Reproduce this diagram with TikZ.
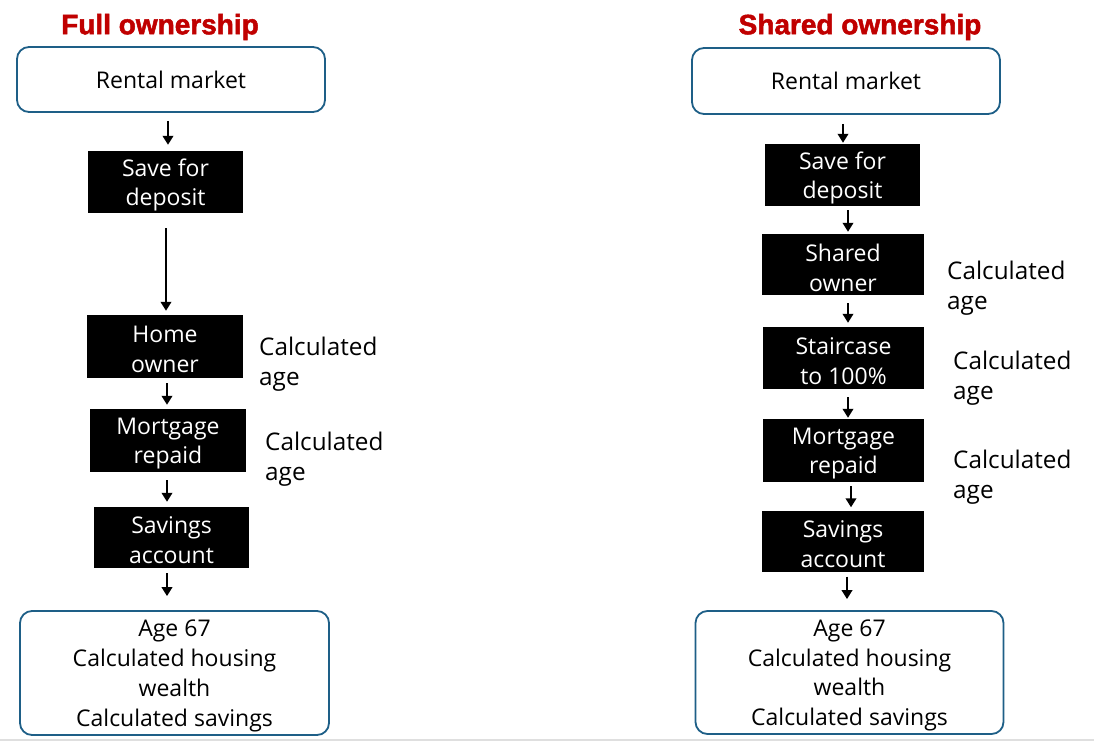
\documentclass[tikz,border=0pt]{standalone}
\usepackage{fontspec}
\setmainfont{Open Sans}
\newfontfamily\titlefont{Liberation Sans}[BoldFeatures={FakeBold=1.8}]
\usetikzlibrary{arrows.meta}
\definecolor{frame}{RGB}{30,95,135}
\definecolor{titlered}{RGB}{192,0,0}
\tikzset{
  body/.style={font=\fontsize{23}{29.8}\selectfont, align=center, inner sep=0pt},
  boxtext/.style={body, yshift=-3pt},
  roundbox/.style={inner sep=0pt, draw=frame, line width=1.8pt, rounded corners=12pt, fill=white,
    label={[boxtext]center:{#1}}},
  singlebox/.style={inner sep=0pt, draw=frame, line width=1.8pt, rounded corners=12pt, fill=white,
    label={[body]center:{#1}}},
  blackbox/.style={inner sep=0pt, fill=black,
    label={[boxtext, text=white]center:{#1}}},
  sidelabel/.style={body, font=\fontsize{24.3}{30}\selectfont, anchor=west, align=left},
  titletext/.style={font=\titlefont\bfseries\fontsize{28}{32}\selectfont, text=titlered, inner sep=0pt},
  flow/.style={line width=2.2pt, -{Triangle[length=9pt,width=10.5pt]}}
}
\begin{document}
\begin{tikzpicture}[x=1pt,y=-1pt]
\useasboundingbox (0,0) rectangle (1094,741);
\fill[white] (0,0) rectangle (1094,741);
\draw[gray!25, line width=1.5pt] (0,740) -- (1094,740);

% ---------- Left: Full ownership ----------
\node[titletext] (tL) at (160,27) {Full ownership};
\node[singlebox={Rental market}, minimum width=308pt, minimum height=65pt] (rentL) at (171,79.5) {};
\node[blackbox={Save for\\deposit}, minimum width=155pt, minimum height=62pt] (saveL) at (165.5,182) {};
\node[blackbox={Home\\owner}, minimum width=156pt, minimum height=63pt] (homeL) at (165,346.5) {};
\node[blackbox={Mortgage\\repaid}, minimum width=156pt, minimum height=63pt] (mortL) at (168,440.5) {};
\node[blackbox={Savings\\account}, minimum width=155pt, minimum height=61pt] (savL) at (171.5,537.5) {};
\node[roundbox={Age 67\\Calculated housing\\wealth\\Calculated savings}, minimum width=309pt, minimum height=124pt] (finL) at (174.5,673) {};
\node[sidelabel] (cL1) at (259,364) {Calculated\\age};
\node[sidelabel] (cL2) at (265,459.5) {Calculated\\age};

\draw[flow] ([xshift=-3pt,yshift=-8pt]rentL.south) -- ([xshift=2.5pt,yshift=6pt]saveL.north);
\draw[flow] ([xshift=0.5pt,yshift=-15pt]saveL.south) -- ([xshift=1pt,yshift=4pt]homeL.north);
\draw[flow] ([xshift=2pt,yshift=-5pt]homeL.south) -- ([xshift=-1pt,yshift=4pt]mortL.north);
\draw[flow] ([xshift=-1pt,yshift=-8pt]mortL.south) -- ([xshift=-4.5pt,yshift=5pt]savL.north);
\draw[flow] ([xshift=-4.5pt,yshift=-5pt]savL.south) -- ([xshift=-7.5pt,yshift=14pt]finL.north);

% ---------- Right: Shared ownership ----------
\node[titletext] (tR) at (860,27) {Shared ownership};
\node[singlebox={Rental market}, minimum width=308pt, minimum height=66pt] (rentR) at (846,81) {};
\node[blackbox={Save for\\deposit}, minimum width=155pt, minimum height=62pt] (saveR) at (842.5,175) {};
\node[blackbox={Shared\\owner}, minimum width=162pt, minimum height=61pt] (shR) at (843,264.5) {};
\node[blackbox={Staircase\\to 100\%}, minimum width=161pt, minimum height=62pt] (stR) at (843.5,358) {};
\node[blackbox={Mortgage\\repaid}, minimum width=161pt, minimum height=63pt] (mortR) at (843.5,450.5) {};
\node[blackbox={Savings\\account}, minimum width=162pt, minimum height=61pt] (savR) at (843,541) {};
\node[roundbox={Age 67\\Calculated housing\\wealth\\Calculated savings}, minimum width=308pt, minimum height=123pt] (finR) at (849.5,672.5) {};
\node[sidelabel] (cR1) at (947,288) {Calculated\\age};
\node[sidelabel] (cR2) at (953,378) {Calculated\\age};
\node[sidelabel] (cR3) at (953,477) {Calculated\\age};

\draw[flow] ([xshift=-3pt,yshift=-9pt]rentR.south) -- ([xshift=0.5pt,yshift=1pt]saveR.north);
\draw[flow] ([xshift=5.5pt,yshift=-4pt]saveR.south) -- ([xshift=5pt,yshift=2pt]shR.north);
\draw[flow] ([xshift=5pt,yshift=-8pt]shR.south) -- ([xshift=4.5pt,yshift=4pt]stR.north);
\draw[flow] ([xshift=4.5pt,yshift=-8pt]stR.south) -- ([xshift=4.5pt,yshift=1pt]mortR.north);
\draw[flow] ([xshift=7.5pt,yshift=-4pt]mortR.south) -- ([xshift=8pt,yshift=3pt]savR.north);
\draw[flow] ([xshift=4pt,yshift=-5pt]savR.south) -- ([xshift=-2.5pt,yshift=11pt]finR.north);
\end{tikzpicture}
\end{document}
